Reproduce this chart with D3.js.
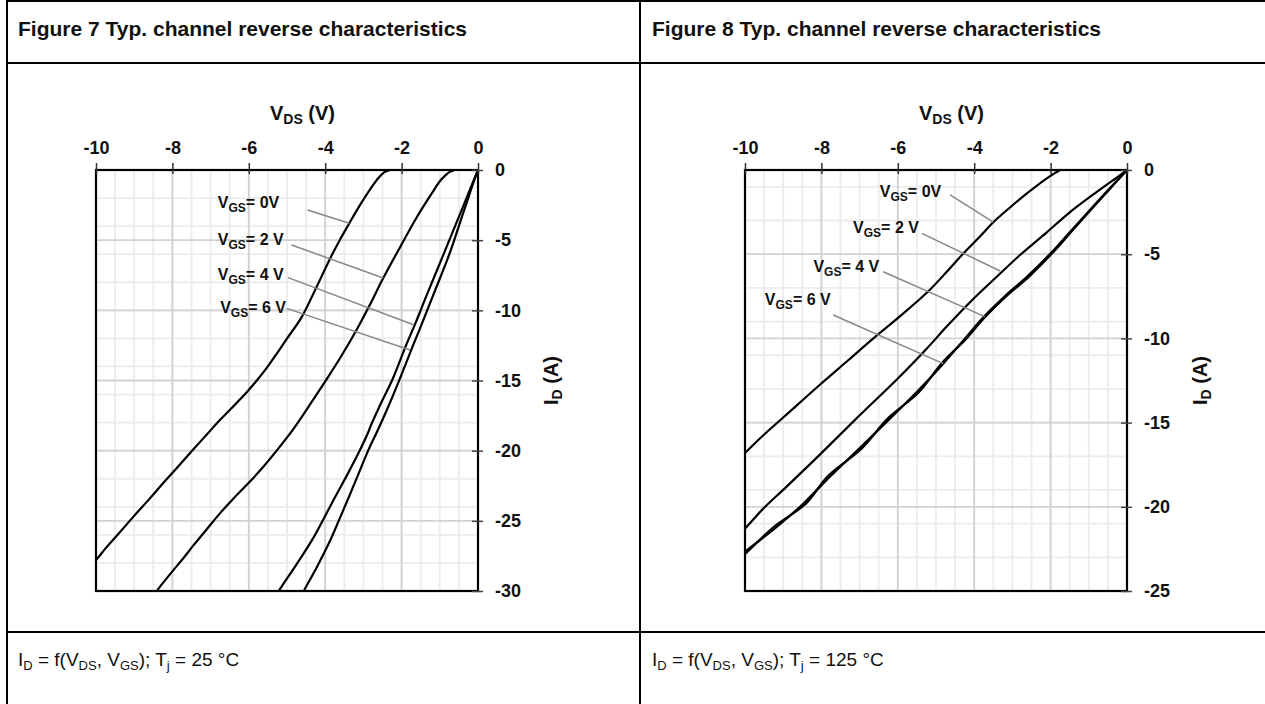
<!DOCTYPE html>
<html>
<head>
<meta charset="utf-8">
<script src="https://cdn.jsdelivr.net/npm/d3@7"></script>
<style>
  body { margin: 0; background: #fff; }
  svg { display: block; font-family: "Liberation Sans", Arial, Helvetica, sans-serif; }
</style>
</head>
<body>
<svg id="chart" width="1265" height="704"></svg>
<script>
// ---- axis ticks ----
const vdsTicks = [-10, -8, -6, -4, -2, 0];
const idTicksFig7 = [0, -5, -10, -15, -20, -25, -30];
const idTicksFig8 = [0, -5, -10, -15, -20, -25];
const vgsNames = ["0V", "2 V", "4 V", "6 V"];

// ---- measured curves, [V_DS (V), I_D (A)] ----
// Figure 7, Tj = 25 °C
const fig7Vgs0 = [[-2.0,0.3],[-2.3,0],[-2.45,-0.15],[-2.6,-0.55],[-2.78,-1.2],[-3.09,-2.5],[-3.37,-3.8],[-3.62,-5.0],[-3.87,-6.3],[-4.22,-8.3],[-4.62,-10.5],[-5.01,-12.05],[-5.27,-13.1],[-5.53,-14.1],[-5.79,-15.0],[-6.06,-15.85],[-6.32,-16.6],[-6.75,-17.8],[-7.1,-18.85],[-7.45,-19.9],[-7.89,-21.25],[-8.24,-22.3],[-8.59,-23.4],[-9.02,-24.7],[-9.37,-25.8],[-9.76,-27.0],[-10,-27.8],[-10.2,-28.4]];
const fig7Vgs2 = [[-0.4,0.3],[-0.62,0],[-0.75,-0.15],[-0.86,-0.4],[-1.0,-0.8],[-1.17,-1.5],[-1.61,-3.4],[-2.04,-5.5],[-2.48,-7.7],[-2.83,-9.6],[-3.18,-11.4],[-3.61,-13.4],[-3.96,-14.9],[-4.31,-16.35],[-4.83,-18.45],[-5.27,-20.0],[-5.62,-21.15],[-5.97,-22.2],[-6.4,-23.4],[-6.75,-24.45],[-7.1,-25.6],[-7.45,-26.75],[-7.71,-27.65],[-8.06,-28.8],[-8.39,-29.94],[-8.5,-30.5]];
const fig7Vgs4 = [[0.1,0.6],[0,0],[-0.45,-3.0],[-0.9,-6.0],[-1.34,-8.9],[-1.65,-11.0],[-1.9,-12.6],[-2.22,-14.8],[-2.57,-16.8],[-2.82,-18.3],[-2.86,-18.6],[-3.09,-19.96],[-3.4,-21.6],[-3.74,-23.3],[-4.05,-24.9],[-4.33,-26.3],[-4.75,-28.1],[-5.2,-29.94],[-5.3,-30.5]];
const fig7Vgs6 = [[0.1,0.6],[0,0],[-0.38,-3.0],[-0.75,-6.0],[-1.17,-8.9],[-1.52,-11.3],[-1.7,-12.5],[-2.06,-14.97],[-2.35,-16.87],[-2.6,-18.4],[-2.87,-19.96],[-3.12,-21.6],[-3.38,-23.3],[-3.63,-24.9],[-3.87,-26.4],[-4.22,-28.3],[-4.55,-29.94],[-4.65,-30.5]];

// Figure 8, Tj = 125 °C
const fig8Vgs0 = [[-1.5,0.3],[-1.75,0],[-1.9,-0.2],[-2.1,-0.5],[-2.4,-1.0],[-2.71,-1.55],[-3.1,-2.3],[-3.5,-3.1],[-3.85,-3.95],[-4.28,-4.95],[-4.7,-6.0],[-5.2,-7.2],[-5.9,-8.6],[-6.64,-10.0],[-7.3,-11.3],[-8.04,-12.75],[-9.0,-14.7],[-9.52,-15.75],[-10,-16.8],[-10.3,-17.4]];
const fig8Vgs2 = [[0.1,0.2],[0,0],[-0.27,-0.45],[-0.79,-1.3],[-1.49,-2.5],[-2.1,-3.7],[-2.8,-5.05],[-3.41,-6.34],[-4.11,-7.85],[-4.72,-9.3],[-5.24,-10.6],[-5.94,-12.25],[-7.08,-14.75],[-8.04,-16.9],[-8.91,-18.8],[-9.52,-20.1],[-10,-21.3],[-10.3,-22.0]];
const fig8Vgs4 = [[0.1,0.25],[0,0],[-0.5,-1.2],[-0.97,-2.38],[-1.5,-3.7],[-2.0,-4.95],[-2.6,-6.3],[-3.2,-7.5],[-3.76,-8.75],[-4.24,-10.0],[-4.81,-11.5],[-5.51,-13.2],[-6.2,-14.75],[-6.99,-16.5],[-7.77,-18.2],[-8.47,-19.8],[-9.17,-21.2],[-10,-22.66],[-10.3,-23.2]];
const fig8Vgs6 = [[0.1,0.25],[0,0],[-0.48,-1.2],[-0.95,-2.38],[-1.47,-3.7],[-1.96,-4.95],[-2.55,-6.3],[-3.16,-7.5],[-3.72,-8.75],[-4.2,-10.0],[-4.86,-11.5],[-5.45,-13.2],[-6.26,-14.75],[-6.93,-16.5],[-7.84,-18.2],[-8.4,-19.8],[-9.25,-21.2],[-10,-22.8],[-10.3,-23.4]];

// ---- V_GS annotations in data units: [text V, text I, leader start V, I, leader end V, I] ----
const fig7Notes = [[-6.81,-2.35,-4.46,-2.85,-3.37,-3.8],[-6.81,-4.99,-4.88,-5.34,-2.48,-7.7],[-6.81,-7.48,-4.97,-7.67,-1.67,-11.05],[-6.75,-9.83,-5.01,-9.86,-1.78,-12.83]];
const fig8Notes = [[-6.47,-1.31,-4.63,-1.48,-3.5,-3.1],[-7.17,-3.46,-5.37,-3.76,-3.32,-6.0],[-8.21,-5.74,-6.38,-6.04,-3.72,-8.71],[-9.48,-7.72,-7.69,-8.61,-4.81,-11.5]];

const svg = d3.select("#chart");

// ---- table rules ----
const rules = svg.append("g").attr("stroke", "#000").attr("stroke-width", 2);
rules.append("line").attr("x1", 7).attr("x2", 1265).attr("y1", 1).attr("y2", 1);
rules.append("line").attr("x1", 7).attr("x2", 7).attr("y1", 0).attr("y2", 704);
rules.append("line").attr("x1", 640).attr("x2", 640).attr("y1", 0).attr("y2", 704);
rules.append("line").attr("x1", 7).attr("x2", 1265).attr("y1", 63).attr("y2", 63);
rules.append("line").attr("x1", 7).attr("x2", 1265).attr("y1", 632).attr("y2", 632);

// text with subscripts: parts = [[string, isSub], ...]
function richText(sel, parts, size, subSize, shift) {
  let down = false;
  parts.forEach(([s, sub]) => {
    const t = sel.append("tspan").text(s);
    if (sub && !down) { t.attr("font-size", subSize).attr("dy", shift); down = true; }
    else if (!sub && down) { t.attr("font-size", size).attr("dy", -shift); down = false; }
    else if (sub) t.attr("font-size", subSize);
  });
  return sel;
}

const panels = [
  { title: "Figure 7 Typ. channel reverse characteristics", tj: "25", cellX: 18,
    x0: 96, x1: 478, y0: 170, y1: 591, idMin: -30, idTicks: idTicksFig7,
    minorI: d3.range(0, -31, -2),
    curves: [fig7Vgs0, fig7Vgs2, fig7Vgs4, fig7Vgs6], notes: fig7Notes },
  { title: "Figure 8 Typ. channel reverse characteristics", tj: "125", cellX: 652,
    x0: 745, x1: 1127, y0: 170, y1: 591, idMin: -25, idTicks: idTicksFig8,
    minorI: d3.range(-25, 0, 2),
    curves: [fig8Vgs0, fig8Vgs2, fig8Vgs4, fig8Vgs6], notes: fig8Notes }
];

panels.forEach((p, pi) => {
  const x = d3.scaleLinear().domain([-10, 0]).range([p.x0, p.x1]);
  const y = d3.scaleLinear().domain([0, p.idMin]).range([p.y0, p.y1]);
  const g = svg.append("g");

  // header and footer text
  g.append("text").attr("x", p.cellX).attr("y", 36)
    .attr("font-size", 21).attr("font-weight", "bold").attr("fill", "#111")
    .text(p.title);
  richText(g.append("text").attr("x", p.cellX).attr("y", 666).attr("font-size", 19).attr("fill", "#111"),
    [["I", false], ["D", true], [" = f(V", false], ["DS", true], [", V", false], ["GS", true],
     ["); T", false], ["j", true], [" = " + p.tj + " \u00B0C", false]], 19, 13, 4);

  // grid
  const grid = g.append("g");
  grid.selectAll(".vmin").data(d3.range(-10, 0.01, 0.5)).join("line")
    .attr("x1", d => x(d)).attr("x2", d => x(d)).attr("y1", p.y0).attr("y2", p.y1)
    .attr("stroke", "#ececec").attr("stroke-width", 1.8);
  grid.selectAll(".hmin").data(p.minorI).join("line")
    .attr("x1", p.x0).attr("x2", p.x1).attr("y1", d => y(d)).attr("y2", d => y(d))
    .attr("stroke", "#ececec").attr("stroke-width", 1.8);
  grid.selectAll(".vmaj").data(vdsTicks).join("line")
    .attr("x1", d => x(d)).attr("x2", d => x(d)).attr("y1", p.y0).attr("y2", p.y1)
    .attr("stroke", "#d2d2d2").attr("stroke-width", 1.8);
  grid.selectAll(".hmaj").data(p.idTicks).join("line")
    .attr("x1", p.x0).attr("x2", p.x1).attr("y1", d => y(d)).attr("y2", d => y(d))
    .attr("stroke", "#d2d2d2").attr("stroke-width", 1.8);

  // curves
  const clipId = "plot-clip-" + pi;
  g.append("clipPath").attr("id", clipId).append("rect")
    .attr("x", p.x0).attr("y", p.y0).attr("width", p.x1 - p.x0).attr("height", p.y1 - p.y0);
  const line = d3.line().x(d => x(d[0])).y(d => y(d[1])).curve(d3.curveCatmullRom.alpha(0.5));
  g.append("g").attr("clip-path", `url(#${clipId})`)
    .selectAll("path").data(p.curves).join("path")
    .attr("d", d => line(d))
    .attr("fill", "none").attr("stroke", "#000").attr("stroke-width", 2.2)
    .attr("stroke-linejoin", "round");

  // frame
  g.append("rect").attr("x", p.x0).attr("y", p.y0)
    .attr("width", p.x1 - p.x0).attr("height", p.y1 - p.y0)
    .attr("fill", "none").attr("stroke", "#000").attr("stroke-width", 2.2);

  // top axis (V_DS)
  const ax = g.append("g").attr("transform", `translate(0,${p.y0 + 4})`)
    .call(d3.axisTop(x).tickValues(vdsTicks).tickSize(11).tickPadding(9).tickFormat(d => String(d)));
  ax.select(".domain").remove();
  ax.selectAll(".tick line").attr("stroke", "#333").attr("stroke-width", 1.5);
  ax.selectAll(".tick text").attr("font-size", 18).attr("font-weight", "bold")
    .attr("fill", "#111").attr("font-family", "Liberation Sans, Arial, sans-serif");

  // right axis (I_D)
  const ay = g.append("g").attr("transform", `translate(${p.x1 - 6},0)`)
    .call(d3.axisRight(y).tickValues(p.idTicks).tickSize(11).tickPadding(12).tickFormat(d => String(d)));
  ay.select(".domain").remove();
  ay.selectAll(".tick line").attr("stroke", "#444").attr("stroke-width", 1.5);
  ay.selectAll(".tick text").attr("font-size", 18).attr("font-weight", "bold")
    .attr("fill", "#111").attr("font-family", "Liberation Sans, Arial, sans-serif");

  // axis titles
  richText(g.append("text").attr("x", p.x0 + 174).attr("y", 120)
      .attr("font-size", 20).attr("font-weight", "bold").attr("fill", "#111"),
    [["V", false], ["DS", true], [" (V)", false]], 20, 14, 4);
  richText(g.append("text").attr("transform", `translate(${p.x1 + 80},${(p.y0 + p.y1) / 2}) rotate(-90)`)
      .attr("text-anchor", "middle").attr("font-size", 20).attr("font-weight", "bold").attr("fill", "#111"),
    [["I", false], ["D", true], [" (A)", false]], 20, 14, 4);

  // V_GS annotations
  p.notes.forEach((n, i) => {
    g.append("line").attr("x1", x(n[2])).attr("y1", y(n[3])).attr("x2", x(n[4])).attr("y2", y(n[5]))
      .attr("stroke", "#888").attr("stroke-width", 1.5);
    richText(g.append("text").attr("x", x(n[0])).attr("y", y(n[1]) + 5)
        .attr("font-size", 16).attr("font-weight", "bold").attr("fill", "#111"),
      [["V", false], ["GS", true], ["= " + vgsNames[i], false]], 16, 12, 4);
  });
});
</script>
</body>
</html>
